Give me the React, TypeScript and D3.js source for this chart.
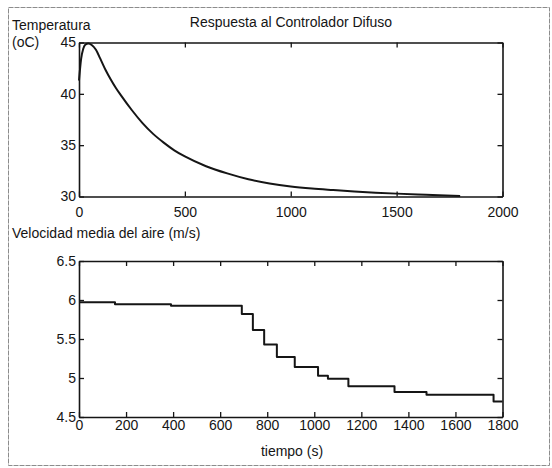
import React, { useEffect, useRef } from 'react';
import * as d3 from 'd3';

// temperatura (oC) vs tiempo (s)
const tempTimes = [0, 10, 20, 30, 45, 60, 80, 100, 125, 150, 175, 200, 250, 300, 350, 400, 450, 500, 600, 700, 800, 900, 1000, 1100, 1200, 1300, 1400, 1500, 1600, 1700, 1800];
const tempValues = [41.3, 43.4, 44.4, 44.8, 44.9, 44.75, 44.3, 43.45, 42.35, 41.4, 40.55, 39.8, 38.4, 37.15, 36.1, 35.25, 34.5, 33.9, 32.95, 32.25, 31.68, 31.27, 30.98, 30.78, 30.63, 30.49, 30.37, 30.28, 30.2, 30.12, 30.06];

// velocidad media del aire (m/s), step changes
const speedTimes = [0, 153, 391, 692, 739, 787, 841, 917, 1016, 1058, 1145, 1341, 1477, 1762, 1800];
const speedValues = [5.97, 5.945, 5.927, 5.82, 5.615, 5.43, 5.27, 5.14, 5.03, 4.99, 4.895, 4.82, 4.785, 4.7, 4.7];

const tempXTicks = [0, 500, 1000, 1500, 2000];
const tempYTicks = [30, 35, 40, 45];
const speedXTicks = [0, 200, 400, 600, 800, 1000, 1200, 1400, 1600, 1800];
const speedYTicks = [4.5, 5, 5.5, 6, 6.5];

const FONT = '"Liberation Sans", Arial, Helvetica, sans-serif';
const INK = '#151515';

function drawPanel(svg, o) {
  const x = d3.scaleLinear().domain(o.xDomain).range([79, 502.5]);
  const y = d3.scaleLinear().domain(o.yDomain).range([o.bottom, o.top]);
  const g = svg.append('g');

  const styleAxis = (sel) => {
    sel.selectAll('.domain').attr('stroke', INK).attr('stroke-width', 1.6);
    sel.selectAll('.tick line').attr('stroke', INK).attr('stroke-width', 1.3);
    sel.selectAll('text').attr('fill', INK).style('font-family', FONT).style('font-size', '14px');
  };

  g.append('g')
    .attr('transform', `translate(0,${o.bottom})`)
    .call(d3.axisBottom(x).tickValues(o.xTicks).tickSize(-5).tickSizeOuter(0).tickPadding(o.xPad).tickFormat((d) => String(d)))
    .call(styleAxis);
  g.append('g')
    .attr('transform', `translate(0,${o.top})`)
    .call(d3.axisTop(x).tickValues(o.xTicks).tickSize(-5).tickSizeOuter(0).tickFormat(() => ''))
    .call(styleAxis);
  g.append('g')
    .attr('transform', 'translate(79,0)')
    .call(d3.axisLeft(y).tickValues(o.yTicks).tickSize(-5).tickSizeOuter(0).tickPadding(3).tickFormat((d) => String(d)))
    .call(styleAxis);
  g.append('g')
    .attr('transform', 'translate(502.5,0)')
    .call(d3.axisRight(y).tickValues(o.yTicks).tickSize(-5).tickSizeOuter(0).tickFormat(() => ''))
    .call(styleAxis);

  const line = d3
    .line()
    .x((d) => x(d[0]))
    .y((d) => y(d[1]))
    .curve(o.curve);

  g.append('path')
    .datum(d3.zip(o.times, o.values))
    .attr('fill', 'none')
    .attr('stroke', INK)
    .attr('stroke-width', 2)
    .attr('stroke-linejoin', 'round')
    .attr('d', line);
}

export default function App() {
  const ref = useRef(null);

  useEffect(() => {
    const svg = d3.select(ref.current);
    svg.selectAll('*').remove();

    // scanned page frame
    svg.append('rect')
      .attr('x', 8.5).attr('y', 7.5).attr('width', 541).attr('height', 458)
      .attr('fill', 'none').attr('stroke', '#8c8c8c').attr('stroke-width', 1)
      .attr('stroke-dasharray', '5 1');

    const label = (txt, x, y, anchor = 'start') =>
      svg.append('text')
        .attr('x', x).attr('y', y)
        .attr('text-anchor', anchor)
        .style('font-family', FONT).style('font-size', '14px')
        .attr('fill', INK)
        .text(txt);

    label('Respuesta al Controlador Difuso', 291, 27, 'middle');
    label('Temperatura', 12, 30);
    label('(oC)', 12, 47);
    label('Velocidad media del aire (m/s)', 12, 238);
    label('tiempo (s)', 292, 456, 'middle');

    drawPanel(svg, {
      xDomain: [0, 2000], yDomain: [30, 45], top: 42.5, bottom: 196.5,
      xTicks: tempXTicks, yTicks: tempYTicks, xPad: 11,
      times: tempTimes, values: tempValues, curve: d3.curveMonotoneX,
    });
    drawPanel(svg, {
      xDomain: [0, 1800], yDomain: [4.5, 6.5], top: 261, bottom: 417,
      xTicks: speedXTicks, yTicks: speedYTicks, xPad: 3,
      times: speedTimes, values: speedValues, curve: d3.curveStepAfter,
    });
  }, []);

  return (
    <svg
      ref={ref}
      width={552}
      height={468}
      style={{ position: 'absolute', left: 0, top: 0, background: '#fff' }}
    />
  );
}
